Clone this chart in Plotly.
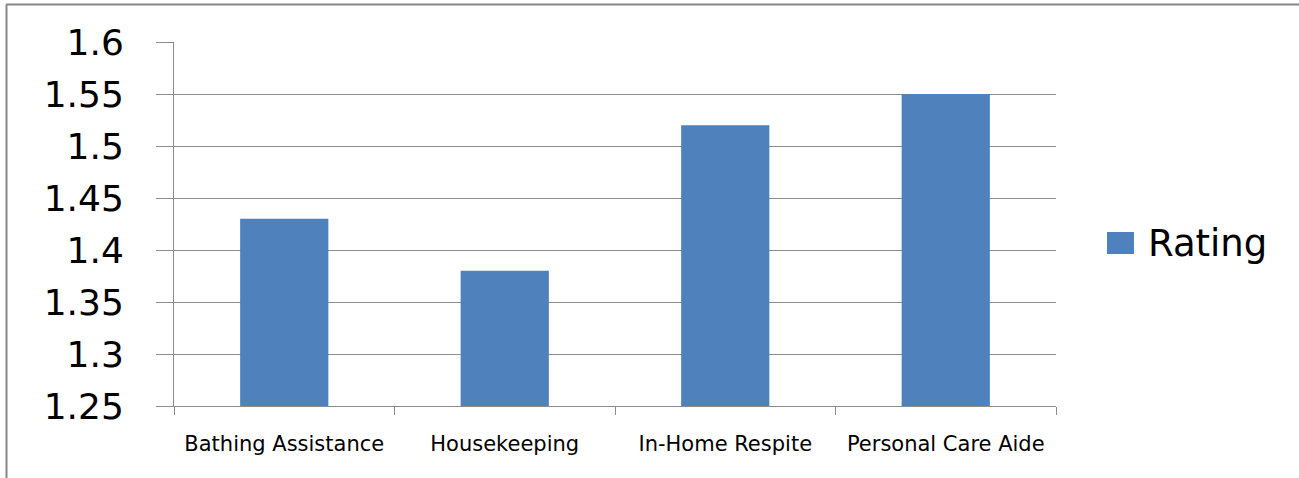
import plotly.graph_objects as go

categories = ["Bathing Assistance", "Housekeeping", "In-Home Respite", "Personal Care Aide"]
ratings = [1.43, 1.38, 1.52, 1.55]
series_name = "Rating"

W, H = 1299, 478
L, R, T, B = 174, W - 1056, 42, H - 406
pw, ph = W - L - R, H - T - B

def px(x):
    return (x - L) / pw

def py(y):
    return (H - B - y) / ph

GRID = "#8c8c8c"
BAR = "#4f81bd"

fig = go.Figure()
fig.add_trace(go.Bar(x=categories, y=ratings, name=series_name,
                     marker=dict(color=BAR, line=dict(width=0)), showlegend=False))

fig.update_layout(
    width=W, height=H,
    margin=dict(l=L, r=R, t=T, b=B, pad=0),
    paper_bgcolor="white", plot_bgcolor="white",
    bargap=0.6,
    font=dict(family="DejaVu Sans", color="black"),
    xaxis=dict(
        showgrid=False, showline=True, linecolor=GRID, linewidth=1,
        ticks="outside", tickson="boundaries", ticklen=8, tickcolor=GRID, tickwidth=1,
        tickfont=dict(size=21, family="DejaVu Sans", color="black"),
        ticklabelstandoff=19,
    ),
    yaxis=dict(
        range=[1.25, 1.6], dtick=0.05, tick0=0,
        showgrid=True, gridcolor=GRID, gridwidth=1,
        showline=True, linecolor=GRID, linewidth=1,
        ticks="outside", ticklen=17, tickcolor=GRID, tickwidth=1,
        tickfont=dict(size=36, family="DejaVu Sans", color="black"),
        ticklabelstandoff=25,
        zeroline=False,
    ),
    shapes=[
        dict(type="line", xref="paper", yref="paper", x0=px(6), x1=px(1299), y0=py(4.5), y1=py(4.5),
             line=dict(color="#888888", width=2)),
        dict(type="line", xref="paper", yref="paper", x0=px(6.5), x1=px(6.5), y0=py(4.5), y1=py(478),
             line=dict(color="#888888", width=2)),
        # legend swatch
        dict(type="rect", xref="paper", yref="paper", x0=px(1107), x1=px(1134), y0=py(254), y1=py(232),
             fillcolor=BAR, line=dict(width=0)),
    ],
    annotations=[
        dict(text=series_name, xref="paper", yref="paper", x=px(1146), y=py(243),
             xanchor="left", yanchor="middle", showarrow=False,
             font=dict(size=37, family="DejaVu Sans", color="black")),
    ],
)

fig.write_html("out.html")
